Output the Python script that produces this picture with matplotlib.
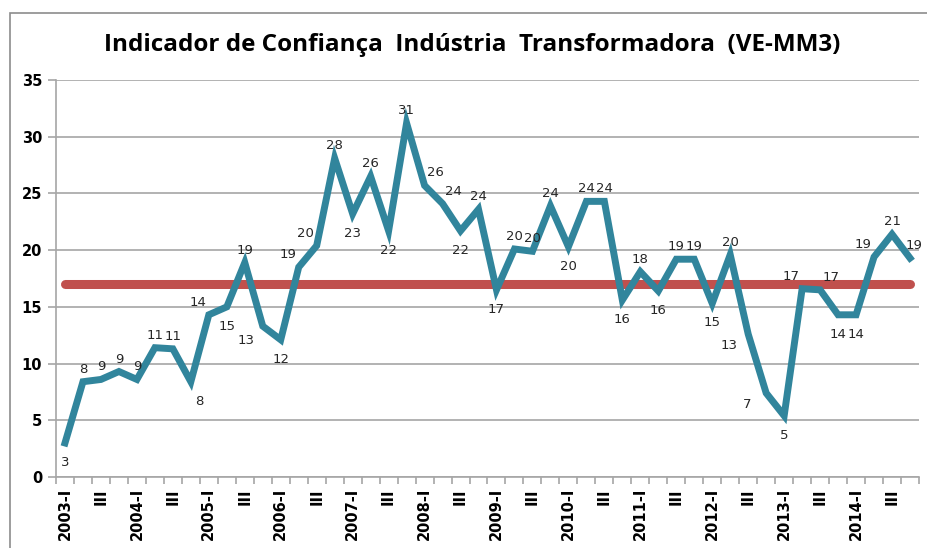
import matplotlib.pyplot as plt
from matplotlib.patches import Rectangle

# quarterly confidence index values, 2003-I .. 2014-IV
years = list(range(2003, 2015))
quarters = ["I", "II", "III", "IV"]
values = [3.0, 8.4, 8.6, 9.3, 8.6, 11.4, 11.3, 8.4,
          14.3, 15.0, 18.9, 13.3, 12.1, 18.5, 20.4, 28.1,
          23.2, 26.5, 21.7, 31.2, 25.7, 24.1, 21.7, 23.6,
          16.5, 20.1, 19.9, 23.9, 20.3, 24.3, 24.3, 15.6,
          18.1, 16.4, 19.2, 19.2, 15.3, 19.6, 12.6, 7.4,
          5.4, 16.6, 16.5, 14.3, 14.3, 19.4, 21.4, 19.3]
shown = [3, 8, 9, 9, 9, 11, 11, 8,
         14, 15, 19, 13, 12, 19, 20, 28,
         23, 26, 22, 31, 26, 24, 22, 24,
         17, 20, 20, 24, 20, 24, 24, 16,
         18, 16, 19, 19, 15, 20, 13, 7,
         5, 17, 17, 14, 14, 19, 21, 19]
reference_level = 17

# where Excel put each data label (offset in points)
label_pos = {"a": (0, 9), "b": (0, -14), "al": (-8, 9), "ar": (8, 9),
             "ar2": (3, 9), "bl": (-12, -10), "br": (6, -14), "l": (-14, -8)}
pos = ["b", "a", "a", "a", "a", "a", "a", "br",
       "al", "b", "a", "bl", "b", "al", "al", "a",
       "b", "a", "b", "a", "ar", "ar", "b", "a",
       "b", "a", "a", "a", "b", "a", "a", "b",
       "a", "b", "a", "a", "b", "a", "l", "l",
       "b", "al", "ar", "b", "b", "al", "a", "ar2"]

labels = []
for y in years:
    for q in quarters:
        labels.append(f"{y}-I" if q == "I" else q)

x = list(range(len(values)))

fig = plt.figure(figsize=(9.27, 5.48), dpi=100)
fig.patches.append(Rectangle((10 / 927, -0.1), 1.0, 1 - 13 / 548 + 0.1,
                             transform=fig.transFigure, fill=False,
                             edgecolor="#8c8c8c", linewidth=1.2))
ax = fig.add_axes([56 / 927, 1 - 477 / 548, (919 - 56) / 927, (477 - 80) / 548])

ax.plot(x, [reference_level] * len(x), color="#C0504D", linewidth=6.5,
        solid_capstyle="round", zorder=3)
ax.plot(x, values, color="#31859C", linewidth=5, solid_joinstyle="miter", zorder=4)

for i, (v, s) in enumerate(zip(values, shown)):
    ax.annotate(str(s), (i, v), xytext=label_pos[pos[i]], textcoords="offset points",
                ha="center", va="center", fontsize=9.5, color="#262626",
                family="DejaVu Sans", zorder=5)

ax.set_xlim(-0.5, len(values) - 0.5)
ax.set_ylim(0, 35)
ax.set_yticks(range(0, 36, 5))
ax.set_yticklabels([str(t) for t in range(0, 36, 5)], fontsize=10.5,
                   fontweight="bold", family="DejaVu Sans")
ax.yaxis.grid(True, color="#a6a6a6", linewidth=1.2)
ax.set_axisbelow(True)

ax.set_xticks([i - 0.5 for i in range(len(values) + 1)])
ax.set_xticklabels([])
ax.set_xticks(x[::2], minor=True)
ax.set_xticklabels(labels[::2], minor=True, rotation=90, fontsize=10.5,
                   fontweight="bold", va="top", family="DejaVu Sans")
ax.tick_params(axis="x", which="minor", length=0, pad=8)
ax.tick_params(axis="x", which="major", length=5, color="#a6a6a6", width=1.2)
ax.tick_params(axis="y", length=6, color="#a6a6a6", width=1.2, pad=4)

for side in ["top", "right"]:
    ax.spines[side].set_visible(False)
for side in ["left", "bottom"]:
    ax.spines[side].set_color("#a6a6a6")
    ax.spines[side].set_linewidth(1.2)

fig.text(0.509, 1 - 45 / 548, "Indicador de Confiança  Indústria  Transformadora  (VE-MM3)",
         ha="center", va="center", fontsize=17.5, fontweight="bold", family="Open Sans")

fig.savefig("out.png", dpi=100)
